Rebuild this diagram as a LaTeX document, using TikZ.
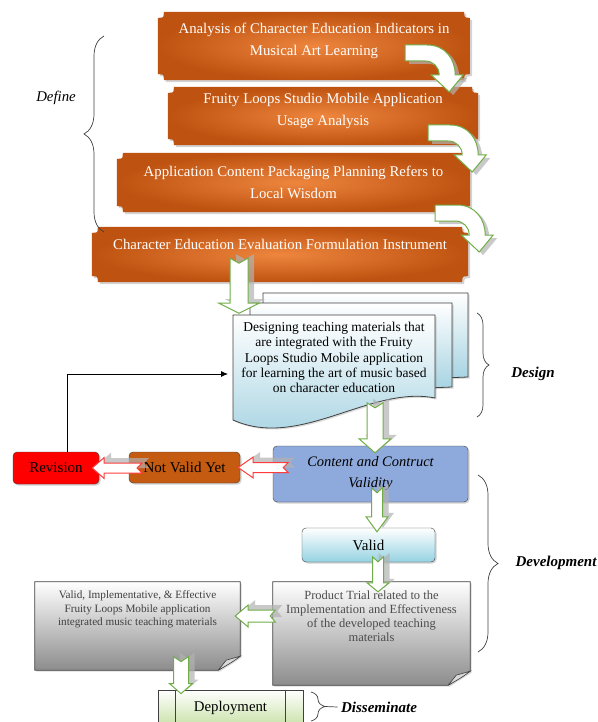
\documentclass[tikz,border=0pt]{standalone}
\usepackage{fontspec}
\setmainfont{Liberation Serif}
\usetikzlibrary{positioning,arrows.meta,shadows,calc,backgrounds,decorations.pathreplacing}

\definecolor{orangeD}{RGB}{190,82,16}
\definecolor{orangeL}{RGB}{238,134,62}
\definecolor{bluebox}{RGB}{142,169,219}
\definecolor{brownbox}{RGB}{197,90,17}
\definecolor{docblue}{RGB}{160,208,224}
\definecolor{validcyan}{RGB}{150,210,226}
\definecolor{greenline}{RGB}{112,173,71}
\definecolor{greenL}{RGB}{200,226,168}
\definecolor{redline}{RGB}{255,60,60}

\tikzset{
  plaquetxt/.style={text=white, font=\fontsize{14.8}{22}\selectfont, align=center, inner sep=0pt},
  plainbox/.style={draw=black!75, rounded corners=4pt, align=center, inner sep=2pt,
    font=\fontsize{15}{18}\selectfont,
    drop shadow={opacity=.35, shadow xshift=1.5pt, shadow yshift=-1.5pt}},
  sheet/.style={draw=black!75, line width=.8pt, top color=white, bottom color=docblue,
    drop shadow={opacity=.3, shadow xshift=1.5pt, shadow yshift=-1.5pt}},
  blockshade/.style={fill=black!30, opacity=.7},
  greenblock/.style={draw=greenline, fill=white, line width=1pt},
  redblock/.style={draw=redline, fill=white, line width=1pt},
  phase/.style={font=\fontsize{15}{18}\selectfont\bfseries\itshape},
  bracket/.style={decorate, decoration={brace, amplitude=#1}, draw=black!75, line width=.7pt},
}

% orange plaque round a node
\newcommand{\plaque}[1]{%
  \path[shading=radial, inner color=orangeL, outer color=orangeD,
    drop shadow={opacity=.35, shadow xshift=2pt, shadow yshift=-2pt}]
    ([xshift=6pt]#1.north west) -- ([xshift=-6pt]#1.north east)
    .. controls ([xshift=-6pt,yshift=-6pt]#1.north east) .. ([yshift=-6pt]#1.north east)
    -- ([yshift=6pt]#1.south east)
    .. controls ([xshift=-6pt,yshift=6pt]#1.south east) .. ([xshift=-6pt]#1.south east)
    -- ([xshift=6pt]#1.south west)
    .. controls ([xshift=6pt,yshift=6pt]#1.south west) .. ([yshift=6pt]#1.south west)
    -- ([yshift=-6pt]#1.north west)
    .. controls ([xshift=6pt,yshift=-6pt]#1.north west) .. ([xshift=6pt]#1.north west) -- cycle;}

% gray box with folded corner
\newcommand{\foldbox}[1]{%
  \draw[draw=black!75, line width=.8pt, top color=white, bottom color=black!45,
    drop shadow={opacity=.3, shadow xshift=1.5pt, shadow yshift=-1.5pt}]
    (#1.north west) -- (#1.north east) -- ([yshift=14pt]#1.south east)
    -- ([xshift=-22pt]#1.south east) -- (#1.south west) -- cycle;
  \draw[draw=black!75, fill=white!85!black, line width=.6pt]
    ([xshift=-22pt]#1.south east) -- ([xshift=-14pt,yshift=10pt]#1.south east)
    -- ([yshift=14pt]#1.south east) .. controls ([xshift=-8pt,yshift=8pt]#1.south east)
    .. ([xshift=-22pt]#1.south east);}

% curved block arrow between plaques
\newcommand{\bentarrow}[1]{%
  \begin{scope}[shift={#1}]
    \fill[blockshade, shift={(4,3)}] (0,0) -- (22,0) .. controls (40,0) and (50,14) .. (50,30)
      -- (58,30) -- (44,47) -- (26,30) -- (34,30) .. controls (34,22) and (28,16) .. (20,16)
      -- (0,16) -- cycle;
    \draw[greenblock] (0,0) -- (22,0) .. controls (40,0) and (50,14) .. (50,30)
      -- (58,30) -- (44,47) -- (26,30) -- (34,30) .. controls (34,22) and (28,16) .. (20,16)
      -- (0,16) -- cycle;
  \end{scope}}

% straight block arrows: tail, tip, half shaft, half head, head length, style
\newcommand{\blockdown}[6]{%
  \fill[blockshade, transform canvas={xshift=6pt,yshift=4pt}] let \p1=#1, \p2=#2 in
    (\x1-#3,\y1) -- (\x1,\y1-5pt) -- (\x1+#3,\y1) -- (\x1+#3,\y2+#5) -- (\x1+#4,\y2+#5)
    -- (\x1,\y2) -- (\x1-#4,\y2+#5) -- (\x1-#3,\y2+#5) -- cycle;
  \draw[#6] let \p1=#1, \p2=#2 in
    (\x1-#3,\y1) -- (\x1,\y1-5pt) -- (\x1+#3,\y1) -- (\x1+#3,\y2+#5) -- (\x1+#4,\y2+#5)
    -- (\x1,\y2) -- (\x1-#4,\y2+#5) -- (\x1-#3,\y2+#5) -- cycle;}
\newcommand{\blockleft}[6]{%
  \fill[blockshade, transform canvas={xshift=7pt,yshift=5pt}] let \p1=#1, \p2=#2 in
    (\x1,\y1+#3) -- (\x1-5pt,\y1) -- (\x1,\y1-#3) -- (\x2+#5,\y1-#3) -- (\x2+#5,\y1-#4)
    -- (\x2,\y1) -- (\x2+#5,\y1+#4) -- (\x2+#5,\y1+#3) -- cycle;
  \draw[#6] let \p1=#1, \p2=#2 in
    (\x1,\y1+#3) -- (\x1-5pt,\y1) -- (\x1,\y1-#3) -- (\x2+#5,\y1-#3) -- (\x2+#5,\y1-#4)
    -- (\x2,\y1) -- (\x2+#5,\y1+#4) -- (\x2+#5,\y1+#3) -- cycle;}

\begin{document}
\begin{tikzpicture}[x=1pt, y=-1pt]
\useasboundingbox (0,0) rectangle (597,722);

% Define steps
\node[plaquetxt, text depth=13.5pt, minimum width=312, minimum height=68] (ana) at (314,46)
  {Analysis of Character Education Indicators in\\Musical Art Learning};
\node[plaquetxt, text depth=13.5pt, minimum width=310, minimum height=58] (fls) at (323,116)
  {Fruity Loops Studio Mobile Application\\Usage Analysis};
\node[plaquetxt, minimum width=353, minimum height=59] (pack) at (293.5,182.5)
  {Application Content Packaging Planning Refers to\\Local Wisdom};
\node[plaquetxt, text depth=21pt, minimum width=376, minimum height=55] (eval) at (280,254.5)
  {Character Education Evaluation Formulation Instrument};

% Design document
\node[align=center, inner sep=0pt, font=\fontsize{13.5}{15.2}\selectfont] (design) at (334,357.5)
  {Designing teaching materials that\\are integrated with the Fruity\\Loops Studio Mobile application\\for learning the art of music based\\on character education};
\coordinate (designin) at (228,374);

% Development
\node[plainbox, fill=bluebox, minimum width=195, minimum height=56,
  font=\fontsize{14.5}{21}\selectfont\itshape] (validity) at (370.5,474)
  {Content and Contruct\\Validity};
\node[plainbox, fill=brownbox, minimum width=111, minimum height=31] (notvalid) at (184.5,467.5) {Not Valid Yet};
\node[plainbox, fill=red, minimum width=86, minimum height=32] (rev) at (56,468) {Revision};
\node[plainbox, top color=white, bottom color=validcyan, minimum width=133, minimum height=34] (valid) at (368.5,545) {Valid};
\node[minimum width=197, minimum height=103, inner sep=0pt] (trial) at (371.5,633.5) {};
\node[align=center, text=black!70, font=\fontsize{12.5}{14}\selectfont, below=5pt of trial.north] (trialtxt)
  {Product Trial related to the\\Implementation and Effectiveness\\of the developed teaching\\materials};
\node[minimum width=205, minimum height=88, inner sep=0pt] (final) at (137.5,626) {};
\node[align=center, text=black!75, font=\fontsize{11.2}{13.8}\selectfont, below=5pt of final.north] (finaltxt)
  {Valid, Implementative, \& Effective\\Fruity Loops Mobile application\\integrated music teaching materials};

% Disseminate
\node[draw=black!75, line width=.8pt, top color=white, bottom color=greenL, minimum width=145, minimum height=36,
  font=\fontsize{14.8}{18}\selectfont] (deploy) at (230.5,708) {Deployment};
\draw[black!75, line width=.8pt] ([xshift=18pt]deploy.north west) -- ([xshift=18pt]deploy.south west)
  ([xshift=-18pt]deploy.north east) -- ([xshift=-18pt]deploy.south east);

% Shapes behind
\begin{scope}[on background layer]
  \plaque{ana} \plaque{fls} \plaque{pack} \plaque{eval}
  \path[sheet] (263,293) -- (468,293) -- (468,377) -- (263,385) -- cycle;
  \path[sheet] (250,303) -- (452,303) -- (452,387) -- (250,395) -- cycle;
  \path[sheet] (233,315) -- (435,315) -- (435,398) .. controls (370,385) and (300,450) .. (233,420) -- cycle;
  \foldbox{trial}
  \foldbox{final}
\end{scope}

% Phase brackets
\draw[bracket=20pt] (104,232) -- (104,36);
\node[font=\fontsize{14.8}{18}\selectfont\itshape] (define) at (56,98) {Define};
\draw[bracket=12pt] (477,313) -- (477,417);
\node[phase] (designlbl) at (533,374) {Design};
\draw[bracket=20pt] (478,475) -- (478,652);
\node[phase] (devlbl) at (556,563) {Development};
\draw[bracket=14pt] (311,692) -- (311,721);
\node[phase] (dislbl) at (379,707) {Disseminate};
\draw[black!75, line width=.7pt] (325,706.5) -- (dislbl.west);

% Feedback line
\draw[line width=.8pt, -{Latex[length=7pt,width=6pt]}] ([xshift=11pt]rev.north) |- (designin);

% Block arrows
\bentarrow{($(ana.east)+(-65,-1)$)}
\bentarrow{($(fls.east)+(-50,9)$)}
\bentarrow{($(pack.east)+(-35,22.5)$)}
\blockdown{($(eval.south)+(-41,-24)$)}{($(eval.south)+(-41,31)$)}{9pt}{20pt}{10pt}{greenblock}
\blockdown{($(validity.north)+(4.5,-43)$)}{($(validity.north)+(4.5,7)$)}{8pt}{16pt}{14pt}{greenblock}
\blockdown{($(valid.north)+(8.5,-40)$)}{($(valid.north)+(8.5,4)$)}{5.5pt}{11pt}{15pt}{greenblock}
\blockdown{($(trial.north)+(6.5,-25)$)}{($(trial.north)+(6.5,10)$)}{5.5pt}{11pt}{9pt}{greenblock}
\blockdown{($(deploy.north)+(-49.5,-33)$)}{($(deploy.north)+(-49.5,4)$)}{7.5pt}{11.5pt}{10pt}{greenblock}
\blockleft{($(notvalid.east)+(48,0)$)}{($(notvalid.east)+(-2,0)$)}{5pt}{10.5pt}{15pt}{redblock}
\blockleft{($(rev.east)+(43,0)$)}{($(rev.east)+(-7,0)$)}{5pt}{10.5pt}{12pt}{redblock}
\blockleft{($(final.east)+(35,-10)$)}{($(final.east)+(-5,-10)$)}{6pt}{11pt}{13pt}{greenblock}
\end{tikzpicture}
\end{document}
